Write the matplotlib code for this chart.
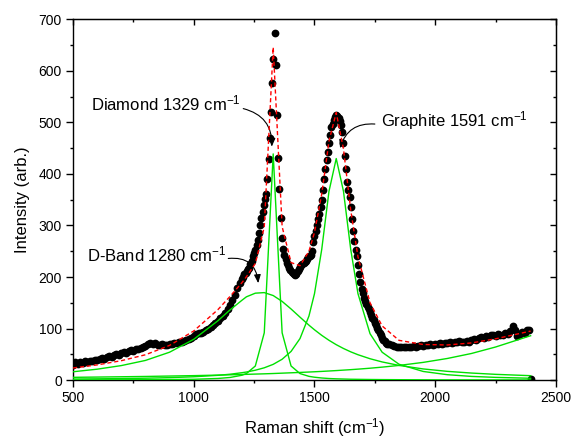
import numpy as np
import matplotlib
matplotlib.use("Agg")
import matplotlib.pyplot as plt
from matplotlib.ticker import MultipleLocator

plt.rcParams['font.family'] = ['Liberation Sans', 'DejaVu Sans']
plt.rcParams['mathtext.fontset'] = 'custom'
plt.rcParams['mathtext.rm'] = 'Liberation Sans'
plt.rcParams['mathtext.it'] = 'Liberation Sans:italic'
plt.rcParams['mathtext.bf'] = 'Liberation Sans:bold'

shift_a = np.arange(500, 1200, 10)
counts_a = [30, 34, 31, 35, 33, 36, 35, 37, 36, 39,
            38, 41, 42, 41, 44, 46, 45, 48, 50, 49,
            52, 54, 53, 56, 58, 57, 60, 61, 63, 64,
            66, 69, 72, 70, 71, 68, 67, 69, 67, 68,
            70, 70, 72, 71, 74, 74, 76, 77, 79, 82,
            86, 89, 91, 92, 94, 97, 100, 103, 106, 110,
            114, 120, 125, 131, 138, 146, 156, 166, 178, 188]
shift_b = np.arange(1200, 1800, 5)
counts_b = [197, 200, 205, 208, 212, 215, 218, 225, 232, 240,
            247, 253, 262, 272, 285, 300, 314, 327, 340, 352,
            362, 390, 430, 470, 521, 576, 623, 673, 612, 515,
            432, 370, 315, 275, 255, 242, 235, 228, 224, 218,
            214, 210, 207, 205, 204, 206, 212, 216, 220, 223,
            225, 228, 230, 232, 235, 238, 240, 242, 250, 268,
            280, 290, 300, 312, 322, 335, 350, 368, 390, 410,
            427, 442, 460, 475, 492, 498, 504, 510, 514, 512,
            508, 502, 495, 482, 460, 435, 410, 385, 369, 355,
            335, 312, 290, 270, 252, 240, 223, 205, 190, 176,
            168, 160, 154, 148, 142, 137, 132, 126, 120, 116,
            111, 106, 101, 97, 92, 87, 82, 78, 75, 72]
shift_c = np.arange(1800, 2400, 10)
counts_c = [70, 69, 67, 66, 65, 65, 64, 65, 64, 65,
            65, 66, 64, 66, 67, 66, 68, 67, 69, 68,
            70, 69, 71, 70, 72, 71, 73, 72, 74, 73,
            75, 74, 73, 75, 74, 77, 79, 78, 81, 84,
            82, 85, 84, 87, 88, 86, 89, 87, 88, 91,
            90, 96, 104, 97, 86, 90, 93, 91, 97, 98]
end_shift = [2395]
end_counts = [1]

# fitted curves
fit_shift = [500, 600, 700, 800, 900, 1000, 1100, 1150, 1200, 1218, 1255, 1292,
             1329, 1366, 1403, 1440, 1477, 1500, 1530, 1560, 1590, 1620, 1650,
             1680, 1730, 1780, 1850, 1950, 2050, 2150, 2250, 2395]
d_band = [16, 21, 28, 38, 54, 79, 115, 136, 155, 161.5, 168.6, 169.7,
          164, 152.6, 137.9, 122, 106.5, 97.5, 86.7, 77.1, 68.6, 61.2, 54.7,
          49.1, 41.3, 35.1, 28.3, 21.5, 16.8, 13.5, 11, 8.4]
diamond = [0.2, 0.3, 0.4, 0.6, 0.9, 1.4, 3.0, 4.9, 9.3, 12.5, 27.2, 91.6,
           439, 91.6, 27.2, 12.5, 7.1, 5.4, 3.9, 2.9, 2.3, 1.9, 1.5,
           1.3, 1.0, 0.8, 0.6, 0.4, 0.3, 0.2, 0.2, 0.1]
graphite = [1.9, 2.3, 2.8, 3.5, 4.6, 6.3, 9.1, 11.2, 14.2, 15.5, 19, 23.7,
            30.4, 40.3, 55.5, 80.5, 124.2, 167.7, 253.7, 366.4, 430, 366.4, 253.7,
            167.7, 89.9, 54, 30.6, 16.6, 10.3, 7, 5.1, 3.4]
background = [5.2, 5.7, 6.3, 6.9, 7.7, 8.5, 9.5, 10.1, 10.7, 11, 11.5, 12,
              12.6, 13.3, 14, 14.7, 15.5, 16, 16.7, 17.5, 18.3, 19.2, 20.1,
              21.1, 22.9, 25, 28.3, 34.2, 41.8, 51.5, 64.1, 86]
total_fit = [23.3, 29.3, 37.5, 49, 67.2, 95.2, 136.6, 162.2, 189.2, 200.5, 226.3, 297,
             646, 297.8, 228, 222, 250, 286.6, 361, 463.9, 519.2, 448.7, 330,
             239.2, 150, 105, 77, 69, 68, 72, 80, 95]

fig = plt.figure(figsize=(5.77, 4.43), dpi=100)
ax = fig.add_axes([0.1265, 0.1422, 0.8371, 0.8138])

for sx, cy in [(shift_a, counts_a), (shift_b, counts_b), (shift_c, counts_c), (end_shift, end_counts)]:
    ax.plot(sx, cy, 'o', color='black', markersize=5.6, markeredgewidth=0, zorder=2)

for comp in [d_band, diamond, graphite, background]:
    ax.plot(fit_shift, comp, color='#00e000', lw=1.0, zorder=3)
ax.plot(fit_shift, total_fit, color='red', lw=1.0, linestyle=(0, (3, 2)), zorder=4)

ax.set_xlim(500, 2500)
ax.set_ylim(0, 700)
ax.xaxis.set_major_locator(MultipleLocator(500))
ax.xaxis.set_minor_locator(MultipleLocator(250))
ax.yaxis.set_major_locator(MultipleLocator(100))
ax.yaxis.set_minor_locator(MultipleLocator(50))
ax.tick_params(which='major', direction='out', length=5, width=1, labelsize=10, pad=3)
ax.tick_params(which='minor', direction='out', length=2.5, width=1)
for s in ax.spines.values():
    s.set_linewidth(1.0)

top = ax.secondary_xaxis('top')
top.xaxis.set_major_locator(MultipleLocator(500))
top.xaxis.set_minor_locator(MultipleLocator(250))
top.tick_params(which='major', direction='in', length=4, width=1, labeltop=False)
top.tick_params(which='minor', direction='in', length=2.5, width=1)
right = ax.secondary_yaxis('right')
right.yaxis.set_major_locator(MultipleLocator(100))
right.yaxis.set_minor_locator(MultipleLocator(50))
right.tick_params(which='major', direction='in', length=4, width=1, labelright=False)
right.tick_params(which='minor', direction='in', length=2.5, width=1)

ax.set_xlabel('Raman shift (cm$^{-1}$)', fontsize=12, labelpad=8)
ax.set_ylabel('Intensity (arb.)', fontsize=12, labelpad=6)

ax.text(574, 523, 'Diamond 1329 cm$^{-1}$', fontsize=12, va='baseline')
ax.text(1775, 492, 'Graphite 1591 cm$^{-1}$', fontsize=12, va='baseline')
ax.text(559, 231, 'D-Band 1280 cm$^{-1}$', fontsize=12, va='baseline')

arrow = dict(arrowstyle='-|>,head_length=0.5,head_width=0.2', color='black', lw=0.8,
             shrinkA=0, shrinkB=0)
ax.annotate('', xy=(1323, 453), xytext=(1205, 527),
            arrowprops=dict(arrow, connectionstyle='arc3,rad=-0.4'))
ax.annotate('', xy=(1606, 450), xytext=(1750, 497),
            arrowprops=dict(arrow, connectionstyle='arc3,rad=0.4'))
ax.annotate('', xy=(1267, 188), xytext=(1143, 236),
            arrowprops=dict(arrow, connectionstyle='arc3,rad=-0.5'))

fig.savefig('out.png', dpi=100)
